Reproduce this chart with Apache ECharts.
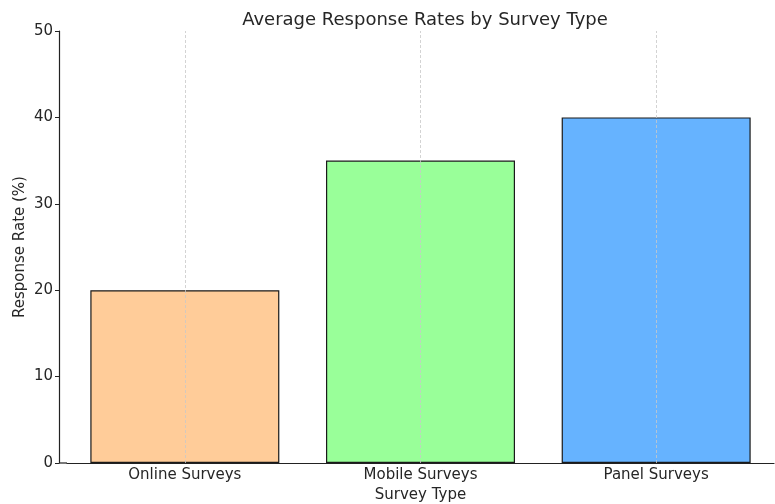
<!DOCTYPE html>
<html>
<head>
<meta charset="utf-8">
<script src="https://cdn.jsdelivr.net/npm/echarts@6/dist/echarts.min.js"></script>
<style>
  html, body { margin: 0; padding: 0; background: #fff; }
  #chart { width: 775px; height: 504px; }
</style>
</head>
<body>
<div id="chart"></div>
<script>
// Survey types and their average response rates (%)
const surveyTypes = ['Online Surveys', 'Mobile Surveys', 'Panel Surveys'];
const responseRates = [20, 35, 40];
const barColors = ['#ffcc99', '#99ff99', '#66b3ff'];
const yTicks = { min: 0, max: 50, interval: 10 };

const font = 'DejaVu Sans';
const textColor = '#262626';
const axisColor = '#222';

const gridLeft = 67, gridBottom = 41, yAxisOffset = 8;

const chart = echarts.init(document.getElementById('chart'), null, { renderer: 'canvas' });

chart.setOption({
  animation: false,
  title: {
    text: 'Average Response Rates by Survey Type',
    left: 420,
    top: 6,
    textAlign: 'center',
    textStyle: { fontFamily: font, fontSize: 18, fontWeight: 'normal', color: textColor }
  },
  grid: { left: gridLeft, right: 1, top: 31, bottom: gridBottom, outerBoundsMode: 'none' },
  xAxis: {
    type: 'category',
    data: surveyTypes,
    name: 'Survey Type',
    nameLocation: 'middle',
    nameGap: 25,
    nameMoveOverlap: false,
    nameTextStyle: { fontFamily: font, fontSize: 15, color: textColor },
    axisLine: { lineStyle: { color: axisColor, width: 1.2 } },
    axisTick: { alignWithLabel: true, length: 4, lineStyle: { color: axisColor } },
    axisLabel: { fontFamily: font, fontSize: 15, color: textColor, margin: 5 },
    splitLine: { show: false }
  },
  yAxis: {
    type: 'value',
    min: yTicks.min,
    max: yTicks.max,
    interval: yTicks.interval,
    offset: yAxisOffset,
    name: 'Response Rate (%)',
    nameLocation: 'middle',
    nameGap: 31,
    nameMoveOverlap: false,
    nameTextStyle: { fontFamily: font, fontSize: 15, color: textColor },
    axisLine: { show: true, lineStyle: { color: axisColor, width: 1.2 } },
    axisTick: { show: true, length: 4, lineStyle: { color: axisColor } },
    axisLabel: { fontFamily: font, fontSize: 15, color: textColor, margin: 6 },
    splitLine: { show: false }
  },
  // short piece of the bottom spine between the offset y axis and the plot area
  graphic: [{
    type: 'line',
    shape: { x1: gridLeft - yAxisOffset, y1: 504 - gridBottom, x2: gridLeft, y2: 504 - gridBottom },
    style: { stroke: axisColor, lineWidth: 1.2 },
    silent: true
  }],
  series: [{
    type: 'bar',
    barWidth: 189,
    data: responseRates.map((v, i) => ({
      value: v,
      itemStyle: { color: barColors[i], borderColor: '#1a1a1a', borderWidth: 1.2 }
    })),
    markLine: {
      silent: true,
      symbol: 'none',
      label: { show: false },
      lineStyle: { type: [3, 2], color: '#c8c8c8', width: 0.8 },
      data: surveyTypes.map(name => ({ xAxis: name }))
    },
    z: 2
  }]
});
</script>
</body>
</html>
